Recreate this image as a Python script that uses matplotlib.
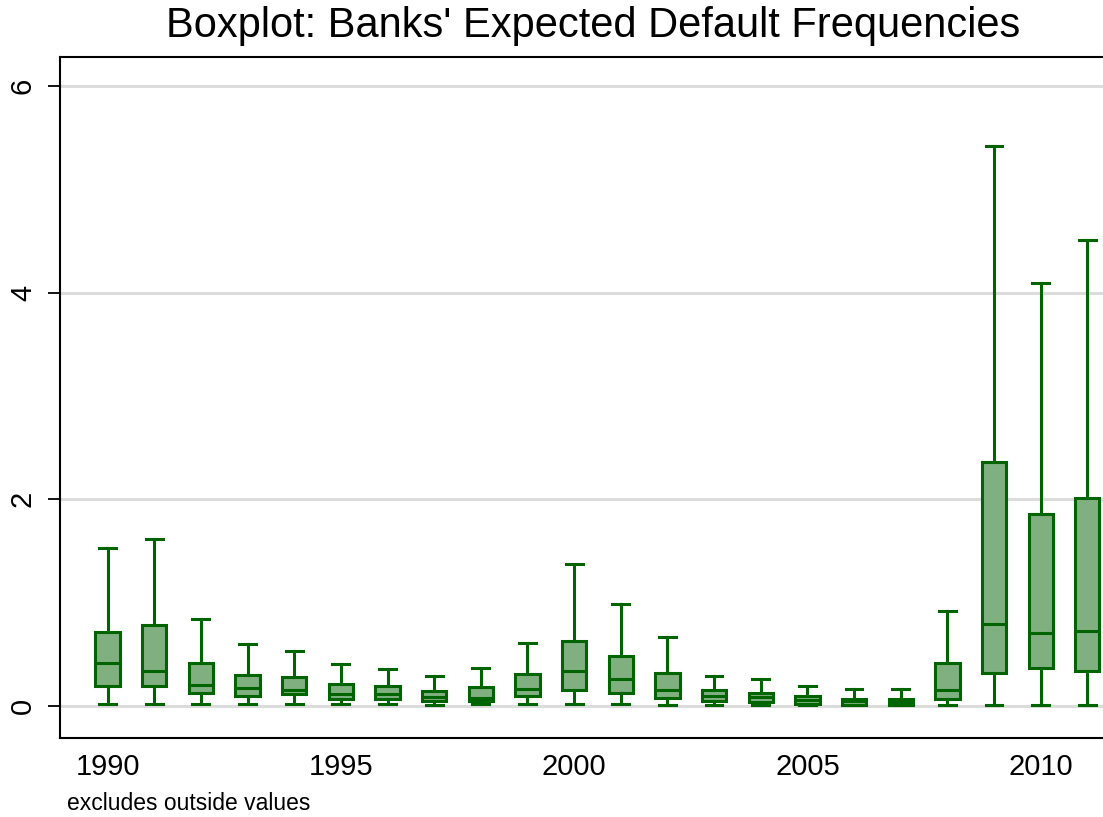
import matplotlib.pyplot as plt

plt.rcParams['font.family'] = ['Liberation Sans', 'DejaVu Sans']

years = list(range(1990, 2012))

# five-number summaries per year (whisker low, q1, median, q3, whisker high)
whislo = [0.02, 0.02, 0.02, 0.02, 0.02, 0.02, 0.02, 0.01, 0.02, 0.02, 0.02,
          0.02, 0.01, 0.01, 0.01, 0.01, 0.01, 0.01, 0.01, 0.01, 0.01, 0.01]
q1 = [0.19, 0.19, 0.13, 0.10, 0.12, 0.07, 0.07, 0.05, 0.05, 0.10, 0.15,
      0.13, 0.08, 0.05, 0.04, 0.02, 0.01, 0.01, 0.07, 0.32, 0.37, 0.34]
med = [0.42, 0.34, 0.20, 0.17, 0.15, 0.12, 0.12, 0.09, 0.08, 0.16, 0.34,
       0.26, 0.15, 0.10, 0.09, 0.06, 0.05, 0.04, 0.15, 0.79, 0.71, 0.73]
q3 = [0.72, 0.78, 0.42, 0.30, 0.28, 0.21, 0.19, 0.14, 0.18, 0.31, 0.63,
      0.48, 0.32, 0.15, 0.13, 0.10, 0.07, 0.07, 0.42, 2.36, 1.86, 2.01]
whishi = [1.53, 1.62, 0.84, 0.60, 0.53, 0.41, 0.36, 0.29, 0.37, 0.61, 1.37,
          0.99, 0.67, 0.29, 0.26, 0.19, 0.16, 0.16, 0.92, 5.42, 4.09, 4.51]

stats = []
for i in range(len(years)):
    stats.append({'whislo': whislo[i], 'q1': q1[i], 'med': med[i],
                  'q3': q3[i], 'whishi': whishi[i], 'fliers': []})

edge = '#006400'
fill = '#80b080'

fig = plt.figure(figsize=(11.03, 8.17), dpi=100)
ax = fig.add_axes([60 / 1103, 79 / 817, 1046 / 1103, 681 / 817])

ax.bxp(stats, positions=years, widths=0.52, capwidths=0.36,
       patch_artist=True, showfliers=False,
       boxprops=dict(facecolor=fill, edgecolor=edge, linewidth=2.2),
       medianprops=dict(color=edge, linewidth=2.2),
       whiskerprops=dict(color=edge, linewidth=2.2),
       capprops=dict(color=edge, linewidth=2.2))

ax.set_xlim(1988.98, 2011.4)
ax.set_ylim(-0.31, 6.28)

ax.set_yticks([0, 2, 4, 6])
ax.set_yticklabels(['0', '2', '4', '6'], rotation=90, va='center', fontsize=21)
ax.set_xticks([1990, 1995, 2000, 2005, 2010])
ax.set_xticklabels(['1990', '1995', '2000', '2005', '2010'], fontsize=21)
ax.tick_params(axis='x', length=0, pad=11)
ax.tick_params(axis='y', length=8.6, width=1.3, pad=8)

ax.grid(axis='y', color='#dcdcdc', linewidth=2.2)
ax.set_axisbelow(True)
for s in ['left', 'top', 'bottom']:
    ax.spines[s].set_linewidth(1.5)
ax.spines['right'].set_visible(False)

fig.text(593 / 1103, 1 - 37 / 817, "Boxplot: Banks' Expected Default Frequencies",
         ha='center', va='baseline', fontsize=30)
fig.text(67 / 1103, 1 - 803 / 817, 'excludes outside values',
         ha='left', va='center', fontsize=16.5)

fig.savefig('out.png', dpi=100)
